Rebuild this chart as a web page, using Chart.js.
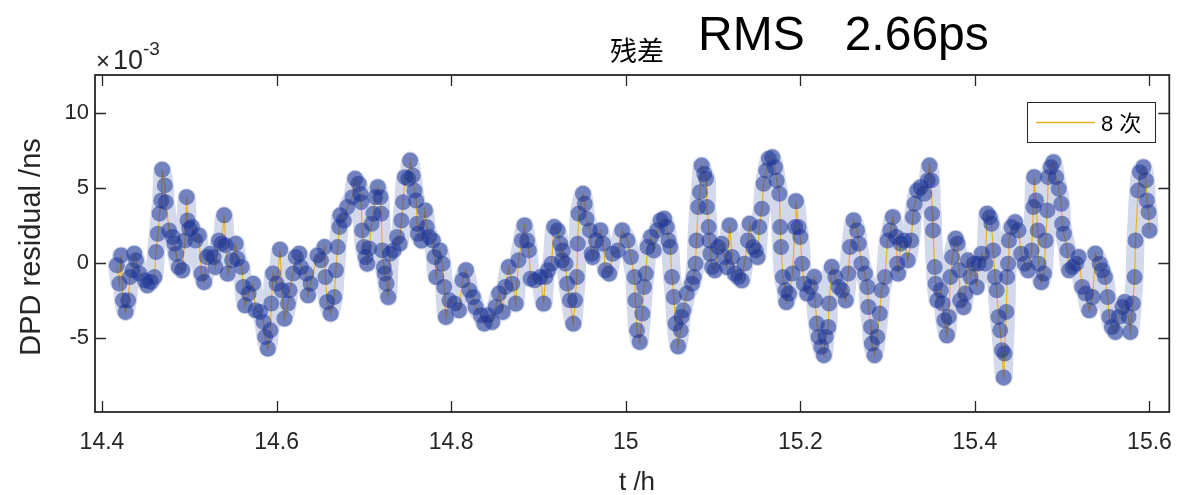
<!DOCTYPE html>
<html><head><meta charset="utf-8">
<script src="https://cdn.jsdelivr.net/npm/chart.js@4.4.1/dist/chart.umd.min.js"></script>
<style>html,body{margin:0;padding:0;background:#fff;}canvas{display:block;}</style>
</head><body>
<canvas id="c" width="1189" height="495"></canvas>
<script>
// time (h)
const tH = [
14.417,14.420,14.422,14.424,14.427,14.430,14.432,14.435,14.437,14.439,
14.443,14.449,14.452,14.456,14.460,14.462,14.464,14.466,14.468,14.469,
14.472,14.473,14.477,14.481,14.483,14.485,14.488,14.492,14.495,14.497,
14.498,14.500,14.503,14.507,14.511,14.514,14.517,14.520,14.524,14.528,
14.530,14.534,14.537,14.540,14.542,14.544,14.549,14.553,14.555,14.560,
14.562,14.564,14.568,14.573,14.576,14.581,14.585,14.587,14.590,14.593,
14.594,14.596,14.600,14.604,14.606,14.609,14.613,14.615,14.619,14.622,
14.626,14.628,14.634,14.636,14.639,14.647,14.651,14.655,14.656,14.658,
14.662,14.666,14.668,14.670,14.672,14.673,14.677,14.681,14.687,14.690,
14.694,14.696,14.697,14.698,14.700,14.702,14.704,14.706,14.709,14.711,
14.713,14.716,14.719,14.720,14.721,14.723,14.724,14.726,14.728,14.730,
14.734,14.738,14.741,14.743,14.745,14.747,14.751,14.753,14.756,14.758,
14.760,14.761,14.762,14.766,14.770,14.772,14.775,14.779,14.781,14.783,
14.787,14.790,14.792,14.794,14.798,14.804,14.809,14.813,14.817,14.821,
14.825,14.828,14.834,14.838,14.842,14.847,14.851,14.855,14.859,14.862,
14.866,14.870,14.874,14.877,14.881,14.884,14.887,14.889,14.891,14.896,
14.902,14.906,14.908,14.911,14.915,14.918,14.922,14.925,14.927,14.928,
14.931,14.933,14.936,14.940,14.942,14.944,14.945,14.946,14.951,14.953,
14.955,14.959,14.961,14.962,14.966,14.971,14.974,14.977,14.981,14.985,
14.991,14.996,15.002,15.006,15.010,15.011,15.013,15.016,15.019,15.021,
15.023,15.025,15.029,15.032,15.036,15.040,15.044,15.047,15.049,15.051,
15.053,15.055,15.057,15.060,15.063,15.064,15.066,15.070,15.076,15.078,
15.080,15.081,15.083,15.085,15.087,15.090,15.092,15.093,15.095,15.096,
15.097,15.099,15.102,15.106,15.110,15.113,15.116,15.119,15.122,15.125,
15.129,15.133,15.136,15.140,15.142,15.146,15.149,15.151,15.153,15.156,
15.158,15.161,15.164,15.168,15.171,15.173,15.176,15.177,15.178,15.180,
15.183,15.184,15.187,15.191,15.194,15.195,15.198,15.200,15.202,15.204,
15.208,15.212,15.216,15.217,15.219,15.221,15.224,15.227,15.229,15.232,
15.233,15.236,15.240,15.244,15.248,15.252,15.255,15.257,15.261,15.265,
15.267,15.270,15.274,15.277,15.278,15.281,15.282,15.285,15.288,15.291,
15.293,15.297,15.300,15.303,15.306,15.310,15.311,15.312,15.315,15.319,
15.323,15.327,15.329,15.331,15.334,15.338,15.342,15.346,15.348,15.350,
15.351,15.352,15.354,15.355,15.357,15.361,15.363,15.365,15.368,15.370,
15.372,15.374,15.378,15.380,15.382,15.383,15.387,15.389,15.392,15.395,
15.399,15.402,15.404,15.408,15.412,15.414,15.417,15.419,15.421,15.423,
15.425,15.427,15.429,15.431,15.433,15.434,15.436,15.437,15.438,15.439,
15.442,15.446,15.450,15.453,15.457,15.461,15.465,15.467,15.468,15.470,
15.472,15.473,15.476,15.479,15.481,15.483,15.484,15.487,15.490,15.493,
15.496,15.499,15.500,15.502,15.506,15.508,15.512,15.516,15.519,15.523,
15.527,15.531,15.535,15.538,15.543,15.546,15.549,15.552,15.554,15.557,
15.561,15.565,15.569,15.572,15.576,15.578,15.581,15.583,15.584,15.587,
15.589,15.593,15.596,15.597,15.599,15.600
];
// DPD residual (x1e-3 ns)
const resid = [
-0.15,-1.37,0.51,-2.48,-3.25,-2.48,-0.93,-0.48,0.62,0.18,
-0.70,-1.15,-1.48,-1.26,-0.93,0.73,1.95,3.28,4.16,6.20,
5.16,4.05,2.17,1.73,1.29,0.62,-0.27,-0.48,1.50,4.38,
2.83,2.28,2.39,1.50,1.84,-0.70,-1.26,0.40,0.62,0.40,
-0.27,1.50,1.29,3.17,1.17,-0.70,0.18,1.29,0.29,-0.27,
-1.59,-2.81,-2.03,-1.37,-3.14,-3.25,-3.91,-4.91,-5.68,-4.47,
-2.69,-0.70,-1.37,0.89,-1.81,-3.69,-2.69,-1.81,-0.70,0.40,
0.62,-0.27,-0.70,-2.14,-1.37,0.51,0.18,1.06,-0.93,-2.59,
-3.36,-2.26,-0.48,1.06,2.39,3.17,2.83,3.72,4.38,5.60,
5.27,4.60,4.05,2.17,1.06,0.40,-0.04,0.97,2.61,3.28,
4.38,5.04,4.38,3.28,0.84,-0.27,-0.70,-1.37,-2.26,0.62,
0.84,1.73,1.29,2.83,4.05,5.71,5.60,6.81,5.82,4.82,
4.16,2.61,1.95,1.50,3.50,2.39,1.73,1.50,0.40,-0.93,
0.84,-0.04,-1.59,-3.58,-2.48,-2.69,-3.14,-1.15,-0.48,-1.81,
-2.26,-2.92,-3.47,-4.02,-3.47,-3.91,-2.92,-2.03,-3.25,-1.59,
-0.27,-1.37,-2.69,0.18,1.50,2.50,1.50,0.84,-1.04,-1.15,
-0.93,-2.69,-0.93,-0.48,-0.04,2.39,2.17,1.29,0.18,0.84,
-0.04,-1.37,-2.48,-4.02,-2.48,-0.93,1.29,3.28,4.60,3.94,
2.95,2.17,0.62,0.40,1.50,2.17,1.29,-0.48,-0.70,0.62,
0.84,2.17,1.50,0.40,-0.93,-2.48,-4.47,-5.24,-3.36,-1.59,
-0.70,1.06,1.73,0.84,2.17,2.83,2.95,2.39,1.50,1.06,
-0.93,-2.26,-4.02,-5.53,-4.47,-3.58,-3.14,-2.03,-1.37,-0.93,
-0.04,1.50,3.72,4.71,6.48,5.93,5.60,3.72,2.39,1.50,
0.62,-0.27,-0.48,1.06,1.29,0.40,-0.27,2.50,0.40,-0.70,
-0.93,-1.15,-0.04,1.50,2.61,1.06,0.84,0.40,2.39,3.61,
5.27,6.15,6.93,7.03,6.37,5.49,4.60,2.39,1.06,-0.93,
-1.81,-2.59,-2.03,-0.70,2.39,4.11,2.39,1.73,-0.04,-1.37,
-2.03,-1.59,-0.93,-2.48,-4.02,-4.91,-5.57,-6.12,-4.91,-4.25,
-2.69,-0.27,-0.93,-1.59,-1.81,-2.48,-0.70,1.06,2.83,2.17,
1.29,-0.04,-0.70,-1.59,-2.92,-4.25,-5.35,-6.12,-4.91,-3.36,
-1.81,-0.93,1.50,2.17,3.05,1.73,-0.04,-0.70,1.29,1.50,
0.18,1.50,3.05,3.94,4.82,5.04,4.60,5.49,6.48,5.49,
3.28,2.17,-0.27,-1.37,-2.48,-1.81,-2.69,-3.80,-4.80,-3.58,
-0.93,0.40,1.62,1.29,-0.48,-2.48,-2.92,-2.03,0.18,-0.93,
-0.04,-1.59,-0.04,0.62,-0.04,3.28,3.05,2.61,0.84,-0.93,
-1.81,-3.58,-4.47,-5.79,-7.60,-6.01,-3.25,-0.93,-0.04,1.50,
2.39,2.72,2.17,0.62,-0.04,-0.48,0.84,3.72,5.71,4.16,
2.17,-0.04,-1.26,-0.70,1.50,3.50,5.71,6.37,6.70,5.71,
4.94,3.94,2.61,1.95,0.84,-0.48,-0.27,-0.04,0.40,-1.59,
-2.03,-3.14,-2.26,0.62,-0.04,-0.48,-0.93,-2.26,-3.58,-4.25,
-4.58,-3.58,-2.92,-2.59,-3.58,-4.58,-2.69,-0.93,1.50,4.82,
6.04,6.37,5.49,4.16,3.38,2.17
];
const xTicks = [14.4, 14.6, 14.8, 15, 15.2, 15.4, 15.6];
const xTickLabels = ['14.4', '14.6', '14.8', '15', '15.2', '15.4', '15.6'];
const yTicks = [-5, 0, 5, 10];
const yTickLabels = ['-5', '0', '5', '10'];
const seriesName = '8 次';
const titleSmall = '残差';
const titleBig = 'RMS   2.66ps';
const xTitle = 't /h';
const yTitle = 'DPD residual /ns';

const pts = tH.map((t, i) => ({x: t, y: resid[i]}));
const FF = '"Liberation Sans", Arial, Helvetica, sans-serif';
const AX = '#262626';

const deco = {
  id: 'deco',
  afterDatasetsDraw(chart) {
    const {ctx, chartArea: {left, right, top, bottom}, scales: {x, y}} = chart;
    ctx.save();
    ctx.strokeStyle = AX;
    ctx.lineWidth = 1.3;
    ctx.beginPath();
    xTicks.forEach(v => {
      const px = Math.round(x.getPixelForValue(v)) + 0.5;
      ctx.moveTo(px, bottom); ctx.lineTo(px, bottom - 11);
      ctx.moveTo(px, top); ctx.lineTo(px, top + 11);
    });
    yTicks.forEach(v => {
      const py = Math.round(y.getPixelForValue(v)) + 0.5;
      ctx.moveTo(left, py); ctx.lineTo(left + 11, py);
      ctx.moveTo(right, py); ctx.lineTo(right - 11, py);
    });
    ctx.stroke();
    ctx.lineWidth = 1.8;
    ctx.strokeRect(left, top, right - left, bottom - top);
    // legend
    ctx.fillStyle = '#fff';
    ctx.fillRect(1027, 102, 128, 40);
    ctx.lineWidth = 1;
    ctx.strokeStyle = '#262626';
    ctx.strokeRect(1027.5, 102.5, 128, 40);
    ctx.strokeStyle = chart.data.datasets[1].borderColor;
    ctx.lineWidth = 1.3;
    ctx.beginPath(); ctx.moveTo(1036, 122.5); ctx.lineTo(1095, 122.5); ctx.stroke();
    ctx.fillStyle = '#000';
    ctx.font = '22px ' + FF + ', "Noto Sans CJK SC"';
    ctx.textBaseline = 'alphabetic';
    ctx.textAlign = 'left';
    ctx.fillText(seriesName, 1101, 131);
    ctx.restore();
  },
  afterDraw(chart) {
    const {ctx} = chart;
    ctx.save();
    ctx.fillStyle = '#000';
    ctx.textBaseline = 'alphabetic';
    ctx.textAlign = 'left';
    ctx.font = '27px "Noto Sans CJK SC"';
    ctx.fillText(titleSmall, 610, 61);
    ctx.font = '48px ' + FF;
    ctx.fillText(titleBig, 698, 50);
    // exponent
    ctx.fillStyle = AX;
    ctx.font = '24px ' + FF;
    ctx.fillText('\u00d7', 96, 69);
    ctx.font = '27px ' + FF;
    ctx.fillText('10', 113, 69);
    ctx.font = '19px ' + FF;
    ctx.fillText('-3', 143, 55);
    // axis titles
    ctx.font = '26px ' + FF;
    ctx.textAlign = 'center';
    ctx.fillText(xTitle, 637, 490);
    ctx.translate(40, 247);
    ctx.rotate(-Math.PI / 2);
    ctx.font = '29px ' + FF;
    ctx.fillText(yTitle, 0, 0);
    ctx.restore();
  }
};

new Chart(document.getElementById('c'), {
  type: 'line',
  data: {
    datasets: [
      {label: 'band', data: pts, borderColor: '#d3d9eb', borderWidth: 18, pointRadius: 0,
       borderJoinStyle: 'round', borderCapStyle: 'round', tension: 0, order: 3},
      {label: seriesName, data: pts, borderColor: '#EDB120', borderWidth: 1.2, pointRadius: 0,
       tension: 0, order: 2},
      {label: 'pts', type: 'scatter', data: pts, pointRadius: 8, pointHoverRadius: 8,
       pointBackgroundColor: 'rgba(25,50,150,0.52)', pointBorderWidth: 0,
       pointBorderColor: 'rgba(0,0,0,0)', showLine: false, order: 1}
    ]
  },
  options: {
    responsive: false, animation: false, devicePixelRatio: 1,
    layout: {padding: {top: 75, right: 8, left: 0, bottom: 0}},
    plugins: {legend: {display: false}, tooltip: {enabled: false}},
    scales: {
      x: {
        type: 'linear', min: 14.392, max: 15.6227,
        grid: {display: false, drawTicks: false}, border: {display: false},
        afterBuildTicks: s => { s.ticks = xTicks.map(v => ({value: v})); },
        afterFit: s => { s.height = 83; },
        ticks: {autoSkip: false, maxRotation: 0, padding: 17, color: AX,
                font: {family: FF, size: 23}, callback: (v, i) => xTickLabels[i]}
      },
      y: {
        type: 'linear', min: -9.9, max: 12.5,
        grid: {display: false, drawTicks: false}, border: {display: false},
        afterBuildTicks: s => { s.ticks = yTicks.map(v => ({value: v})); },
        afterFit: s => { s.width = 95; },
        ticks: {autoSkip: false, padding: 6, color: AX,
                font: {family: FF, size: 22}, callback: (v, i) => yTickLabels[i]}
      }
    }
  },
  plugins: [deco]
});
</script>
</body></html>
